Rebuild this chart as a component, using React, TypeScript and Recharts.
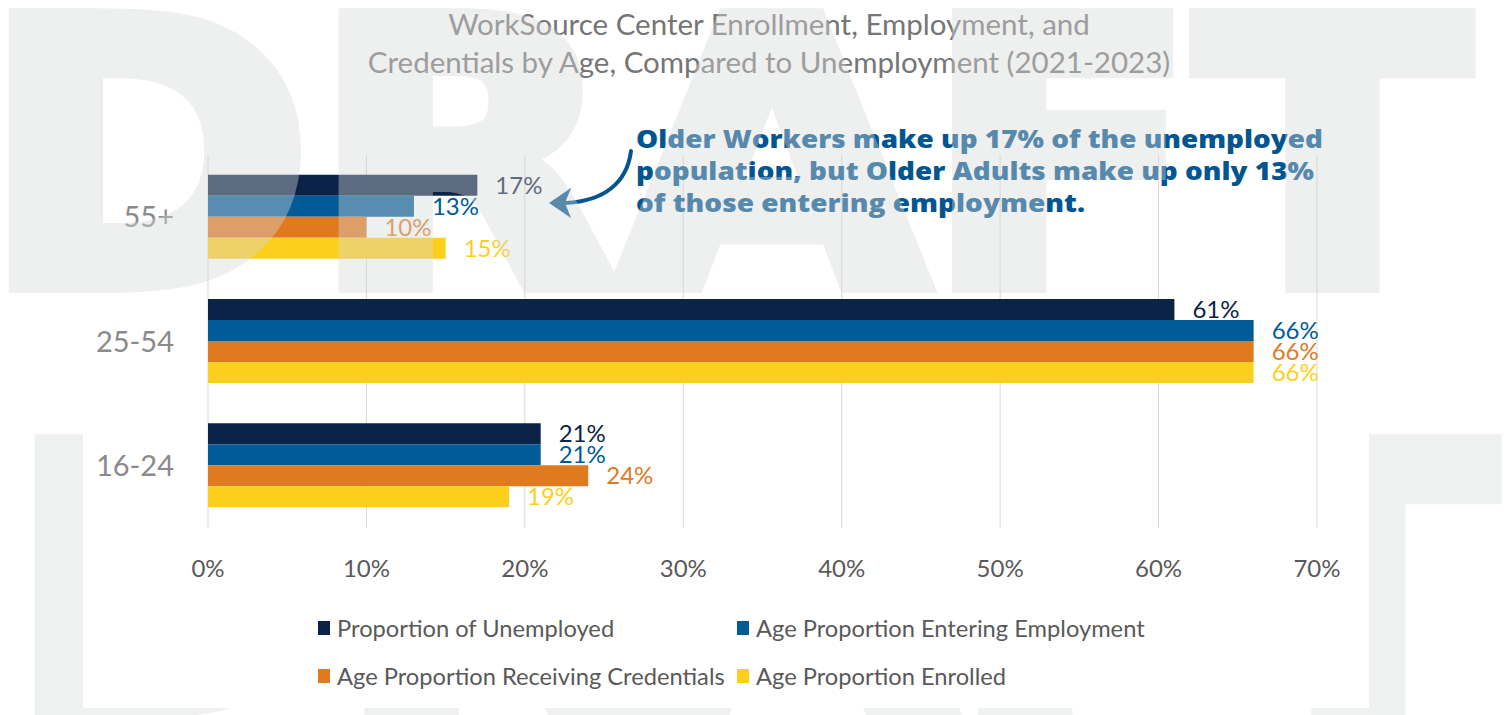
import React from 'react';
import { BarChart, Bar, XAxis, YAxis, CartesianGrid, LabelList } from 'recharts';

const ageGroups = ['55+', '25-54', '16-24'];
const unemployed = [17, 61, 21];
const enteringEmployment = [13, 66, 21];
const receivingCredentials = [10, 66, 24];
const enrolled = [15, 66, 19];
const xTicks = [0, 10, 20, 30, 40, 50, 60, 70];

const seriesKeys = ['unemployed', 'employment', 'credentials', 'enrolled'];
const seriesNames = [
  'Proportion of Unemployed',
  'Age Proportion Entering Employment',
  'Age Proportion Receiving Credentials',
  'Age Proportion Enrolled',
];
const seriesColors = ['#0b2346', '#005b96', '#e07a1f', '#fdcf1c'];
const seriesValues = [unemployed, enteringEmployment, receivingCredentials, enrolled];

const titleLines = [
  'WorkSource Center Enrollment, Employment, and',
  'Credentials by Age, Compared to Unemployment (2021-2023)',
];
const noteLines = [
  'Older Workers make up 17% of the unemployed',
  'population, but Older Adults make up only 13%',
  'of those entering employment.',
];
const noteWidths = [687, 678, 449];
const watermark = 'DRAFT';

const data = ageGroups.map((age, i) => {
  const row: Record<string, any> = { age };
  seriesKeys.forEach((k, s) => {
    row[k] = seriesValues[s][i];
  });
  return row;
});

const W = 1506;
const H = 715;
const layer: React.CSSProperties = { position: 'absolute', left: 0, top: 0, width: W, height: H };

function Watermark({ x, y, color }: { x: number; y: number; color: string }) {
  return (
    <text
      x={x}
      y={y}
      fontFamily="DejaVu Sans"
      fontWeight="bold"
      fontSize={366}
      fill={color}
      stroke={color}
      strokeWidth={18}
      strokeLinejoin="miter"
      textLength={1486}
      lengthAdjust="spacingAndGlyphs"
    >
      {watermark}
    </text>
  );
}

export default function App() {
  return (
    <div style={{ position: 'absolute', left: 0, top: 0, width: W, height: H, background: '#ffffff', fontFamily: 'Lato, sans-serif', overflow: 'hidden' }}>
      {/* background watermark row (behind chart) */}
      <svg style={layer} width={W} height={H}>
        <Watermark x={8} y={710} color="#eff0f0" />
        <rect x={83} y={296} width={1286} height={412} fill="#ffffff" />
      </svg>

      <div style={layer}>
        <BarChart
          width={W}
          height={H}
          data={data}
          layout="vertical"
          margin={{ top: 155, right: 189, bottom: 127, left: 0 }}
          barCategoryGap="15.8%"
          barGap={0}
        >
          <CartesianGrid horizontal={false} stroke="#d9d9d9" />
          <XAxis
            type="number"
            domain={[0, 70]}
            ticks={xTicks}
            tickFormatter={(v: number) => `${v}%`}
            axisLine={false}
            tickLine={false}
            tickSize={6}
            tickMargin={26}
            height={60}
            tick={{ fill: '#595959', fontSize: 24, fontFamily: 'Lato' }}
          />
          <YAxis
            type="category"
            dataKey="age"
            width={208}
            axisLine={false}
            tickLine={false}
            tickSize={6}
            tickMargin={28}
            tick={{ fill: '#8a8a8a', fontSize: 29, fontFamily: 'Lato' }}
          />
          {seriesKeys.map((k, s) => (
            <Bar key={k} dataKey={k} name={seriesNames[s]} fill={seriesColors[s]} isAnimationActive={false}>
              <LabelList
                dataKey={k}
                position="right"
                offset={18}
                fill={seriesColors[s]}
                fontSize={24}
                fontFamily="Lato"
                formatter={(v: any) => `${v}%`}
              />
            </Bar>
          ))}
        </BarChart>
      </div>

      {/* title, annotation, arrow */}
      <svg style={layer} width={W} height={H}>
        {titleLines.map((t, i) => (
          <text key={i} x={769} y={35 + i * 38} textAnchor="middle" fontFamily="Lato" fontSize={29.5} fill="#767676">
            {t}
          </text>
        ))}
        {noteLines.map((t, i) => (
          <text
            key={i}
            x={636}
            y={148 + i * 32}
            fontFamily="Open Sans"
            fontWeight={800}
            fontSize={25}
            fill="#02558f"
            textLength={noteWidths[i]}
            lengthAdjust="spacingAndGlyphs"
          >
            {t}
          </text>
        ))}
        <path d="M 631 151 C 627 183, 604 201, 566 203" fill="none" stroke="#02558f" strokeWidth={4} strokeLinecap="round" />
        <polygon points="549,203 571,188 565,203 571,218" fill="#02558f" />
      </svg>

      {/* legend */}
      <div style={layer}>
        {seriesNames.map((name, s) => {
          const col = s % 2;
          const row = Math.floor(s / 2);
          return (
            <div
              key={name}
              style={{
                position: 'absolute',
                left: col === 0 ? 318 : 737,
                top: 628 + row * 48 - 15,
                height: 30,
                display: 'flex',
                alignItems: 'center',
                whiteSpace: 'nowrap',
                fontFamily: 'Lato',
                fontSize: 23.7,
                color: '#595959',
              }}
            >
              <span style={{ display: 'inline-block', width: 12, height: 14, background: seriesColors[s], marginRight: 7 }} />
              <span>{name}</span>
            </div>
          );
        })}
      </div>

      {/* foreground translucent watermark row */}
      <svg style={{ ...layer, pointerEvents: 'none' }} width={W} height={H}>
        <g opacity={0.4}>
          <Watermark x={-18} y={284} color="#d7d8d8" />
        </g>
      </svg>
    </div>
  );
}
